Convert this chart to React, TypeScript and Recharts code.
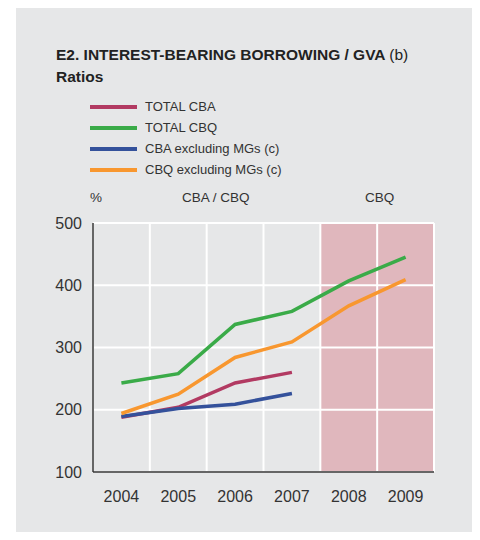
import React from "react";
import {
  LineChart,
  Line,
  XAxis,
  YAxis,
  CartesianGrid,
  ReferenceArea,
} from "recharts";

const years = ["2004", "2005", "2006", "2007", "2008", "2009"];
const totalCBA = [188, 204, 243, 260, null, null];
const totalCBQ = [243, 258, 337, 358, 407, 445];
const cbaExMG = [189, 202, 209, 226, null, null];
const cbqExMG = [194, 225, 284, 309, 367, 409];
const yTicks = [100, 200, 300, 400, 500];
const gridTicks = [0, 1, 2, 3, 4, 5, 6];

const series = [
  { key: "totalCBA", name: "TOTAL CBA", color: "#b23a62" },
  { key: "totalCBQ", name: "TOTAL CBQ", color: "#3aab48" },
  { key: "cbaExMG", name: "CBA excluding MGs (c)", color: "#34519b" },
  { key: "cbqExMG", name: "CBQ excluding MGs (c)", color: "#f8972f" },
];

const data = years.map((y, i) => ({
  year: y,
  idx: i + 0.5,
  totalCBA: totalCBA[i],
  totalCBQ: totalCBQ[i],
  cbaExMG: cbaExMG[i],
  cbqExMG: cbqExMG[i],
}));

const font = "'Liberation Sans', Arial, sans-serif";
const textColor = "#333";

const App = () => {
  return (
    <div
      style={{
        position: "relative",
        width: 480,
        height: 540,
        margin: -8,
        background: "#fff",
        fontFamily: font,
        overflow: "hidden",
      }}
    >
      <div
        style={{
          position: "absolute",
          left: 16,
          top: 6,
          width: 464,
          height: 534,
          background: "#e6e7e8",
        }}
      />
      <div
        style={{
          position: "absolute",
          left: 56,
          top: 44,
          fontSize: 15.5,
          lineHeight: "22px",
          color: "#222",
          fontWeight: "bold",
        }}
      >
        <div>
          E2. INTEREST-BEARING BORROWING / GVA{" "}
          <span style={{ fontWeight: "normal" }}>(b)</span>
        </div>
        <div>Ratios</div>
      </div>
      <div style={{ position: "absolute", left: 90, top: 96 }}>
        {series.map((s) => (
          <div
            key={s.key}
            style={{
              display: "flex",
              alignItems: "center",
              height: 21,
              fontSize: 13,
              color: textColor,
            }}
          >
            <div
              style={{ width: 47, height: 4, background: s.color, marginRight: 8 }}
            />
            {s.name}
          </div>
        ))}
      </div>
      <div style={{ position: "absolute", left: 90, top: 190, fontSize: 13.5, color: textColor }}>
        %
      </div>
      <div style={{ position: "absolute", left: 182, top: 190, fontSize: 13.5, color: textColor }}>
        CBA / CBQ
      </div>
      <div style={{ position: "absolute", left: 365, top: 190, fontSize: 13.5, color: textColor }}>
        CBQ
      </div>
      <div style={{ position: "absolute", left: 0, top: 0 }}>
        <LineChart
          width={480}
          height={540}
          data={data}
          margin={{ top: 223, right: 46, left: 53, bottom: 38 }}
        >
          <ReferenceArea
            xAxisId="grid"
            x1={4}
            x2={6}
            fill="#e0b7bd"
            fillOpacity={1}
            stroke="none"
            ifOverflow="visible"
            zIndex={-200}
          />
          <CartesianGrid
            xAxisId="grid"
            stroke="#ffffff"
            strokeWidth={2}
            verticalValues={gridTicks}
            horizontalValues={yTicks}
            zIndex={-100}
          />
          <XAxis
            dataKey="year"
            padding={{ left: 28.4, right: 28.4 }}
            axisLine={{ stroke: textColor, strokeWidth: 1.5 }}
            tickLine={false}
            tickMargin={12.5}
            tick={{ fontSize: 16, fill: textColor, fontFamily: font }}
            height={30}
            interval={0}
          />
          <XAxis
            xAxisId="grid"
            dataKey="idx"
            type="number"
            domain={[0, 6]}
            ticks={gridTicks}
            hide
          />
          <YAxis
            domain={[100, 500]}
            ticks={yTicks}
            width={40}
            axisLine={{ stroke: textColor, strokeWidth: 1.5 }}
            tickLine={false}
            tickMargin={5}
            tick={{ fontSize: 16, fill: textColor, fontFamily: font }}
          />
          {series.map((s) => (
            <Line
              key={s.key}
              dataKey={s.key}
              name={s.name}
              stroke={s.color}
              strokeWidth={3.5}
              dot={false}
              activeDot={false}
              type="linear"
              isAnimationActive={false}
            />
          ))}
        </LineChart>
      </div>
    </div>
  );
};

export default App;
